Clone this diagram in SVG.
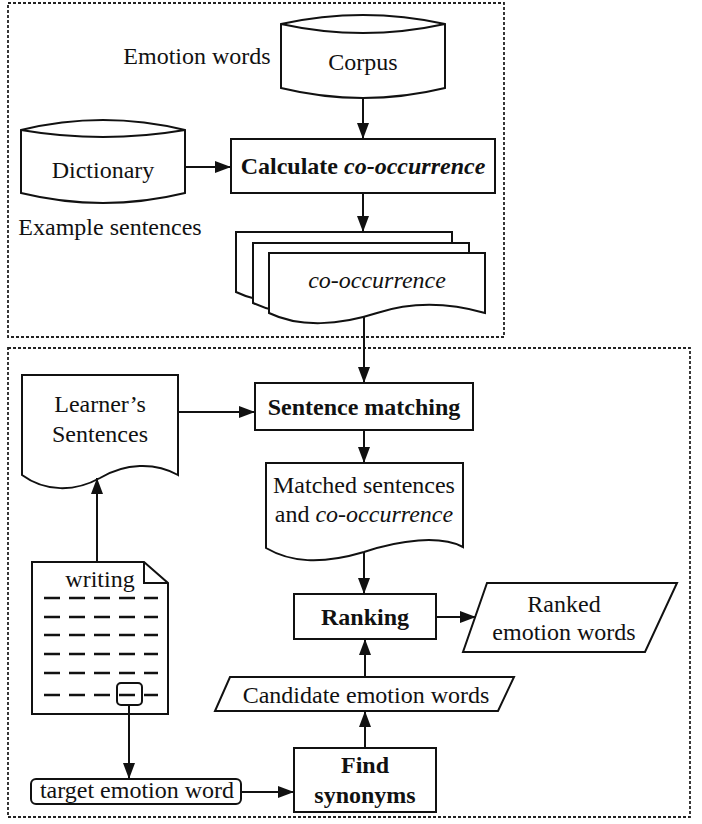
<svg xmlns="http://www.w3.org/2000/svg" width="702" height="824" viewBox="0 0 702 824">
<style>
.s{fill:#fff;stroke:#111;stroke-width:2}
.o{fill:none;stroke:#111;stroke-width:2}
.b{fill:none;stroke:#222;stroke-width:1.8;stroke-dasharray:3 2}
.c{fill:none;stroke:#111;stroke-width:2;marker-end:url(#ah)}
.d{fill:none;stroke:#111;stroke-width:2.6;stroke-dasharray:16 9}
text{font-family:"Liberation Serif","Times New Roman",serif;font-size:24px;fill:#111;text-anchor:middle}
.bd{font-weight:bold}
.it{font-style:italic}
</style>
<defs>
<marker id="ah" markerUnits="userSpaceOnUse" markerWidth="16" markerHeight="12" refX="16" refY="6" orient="auto">
<path d="M0,0 L16,6 L0,12 z" fill="#111"/>
</marker>
</defs>
<rect id="top-frame" class="b" x="8" y="3" width="496" height="334"/>
<rect id="bottom-frame" class="b" x="8" y="348" width="682" height="469"/>

<g id="corpus">
<path class="s" d="M281,24 Q363,6 445,24 L445,88 Q363,108 281,88 Z"/>
<path class="o" d="M281,24 Q363,42 445,24"/>
<text x="363" y="70">Corpus</text>
</g>
<g id="emotion-words-label"><text x="197" y="64">Emotion words</text></g>
<g id="dictionary">
<path class="s" d="M21,130 Q103,110 185,130 L185,193 Q103,213 21,193 Z"/>
<path class="o" d="M21,130 Q103,144 185,130"/>
<text x="103" y="178">Dictionary</text>
</g>
<g id="example-sentences-label"><text x="110" y="235">Example sentences</text></g>
<g id="calculate">
<rect class="s" x="231" y="139" width="264" height="54"/>
<text x="363" y="174" class="bd">Calculate <tspan class="it">co-occurrence</tspan></text>
</g>
<g id="co-occurrence-docs">
<path class="s" d="M236,232 L452,232 L452,292 C417,282 381,280 344,292 C307,304 267,307 236,292 Z"/>
<path class="s" d="M253,243 L469,243 L469,303 C434,293 398,291 361,303 C324,315 284,318 253,303 Z"/>
<path class="s" d="M269,253 L485,253 L485,313 C450,303 414,301 377,313 C340,325 300,328 269,313 Z"/>
<text x="377" y="288" class="it">co-occurrence</text>
</g>
<g id="sentence-matching">
<rect class="s" x="255" y="383" width="218" height="47"/>
<text x="364" y="415" class="bd">Sentence matching</text>
</g>
<g id="learners-sentences">
<path class="s" d="M22,375 L178,375 L178,475 C155,462 125,463 100,478 C75,492 45,492 22,475 Z"/>
<text x="100" y="412">Learner’s</text>
<text x="100" y="442">Sentences</text>
</g>
<g id="matched">
<path class="s" d="M266,463 L463,463 L463,547 C440,535 400,540 364,552 C320,565 290,562 266,548 Z"/>
<text x="364" y="493">Matched sentences</text>
<text x="364" y="522">and <tspan class="it">co-occurrence</tspan></text>
</g>
<g id="writing">
<path class="s" d="M32,562 L144,562 L168,583 L168,714 L32,714 Z"/>
<path class="o" d="M144,562 L144,583 L168,583"/>
<text x="100" y="587">writing</text>
<line class="d" x1="44" y1="598" x2="158" y2="598"/>
<line class="d" x1="44" y1="617" x2="158" y2="617"/>
<line class="d" x1="44" y1="635" x2="158" y2="635"/>
<line class="d" x1="44" y1="654" x2="158" y2="654"/>
<line class="d" x1="44" y1="673" x2="158" y2="673"/>
<line class="d" x1="44" y1="695" x2="158" y2="695"/>
<rect class="o" x="117" y="683" width="25" height="22" rx="4"/>
</g>
<g id="ranking">
<rect class="s" x="294" y="594" width="142" height="45"/>
<text x="365" y="625" class="bd">Ranking</text>
</g>
<g id="ranked-emotion-words">
<path class="s" d="M487,583 L677,583 L645,652 L463,652 Z"/>
<text x="564" y="612">Ranked</text>
<text x="564" y="640">emotion words</text>
</g>
<g id="candidate-emotion-words">
<path class="s" d="M230,677 L514,677 L498,711 L215,711 Z"/>
<text x="366" y="703">Candidate emotion words</text>
</g>
<g id="find-synonyms">
<rect class="s" x="294" y="748" width="142" height="64"/>
<text x="365" y="773" class="bd">Find</text>
<text x="365" y="803" class="bd">synonyms</text>
</g>
<g id="target-emotion-word">
<rect class="s" x="31" y="779" width="210" height="25" rx="5"/>
<text x="137" y="798">target emotion word</text>
</g>

<g id="connectors">
<line class="c" x1="363" y1="98" x2="363" y2="139"/>
<line class="c" x1="185" y1="167" x2="231" y2="167"/>
<line class="c" x1="363" y1="193" x2="363" y2="232"/>
<line class="c" x1="364" y1="316" x2="364" y2="383"/>
<line class="c" x1="178" y1="412" x2="255" y2="412"/>
<line class="c" x1="364" y1="430" x2="364" y2="463"/>
<line class="c" x1="97" y1="562" x2="97" y2="478"/>
<line class="c" x1="364" y1="552" x2="364" y2="594"/>
<line class="c" x1="436" y1="617" x2="476" y2="617"/>
<line class="c" x1="365" y1="677" x2="365" y2="639"/>
<line class="c" x1="365" y1="748" x2="365" y2="711"/>
<line class="c" x1="129" y1="705" x2="129" y2="779"/>
<line class="c" x1="241" y1="792" x2="294" y2="792"/>
</g>
</svg>
